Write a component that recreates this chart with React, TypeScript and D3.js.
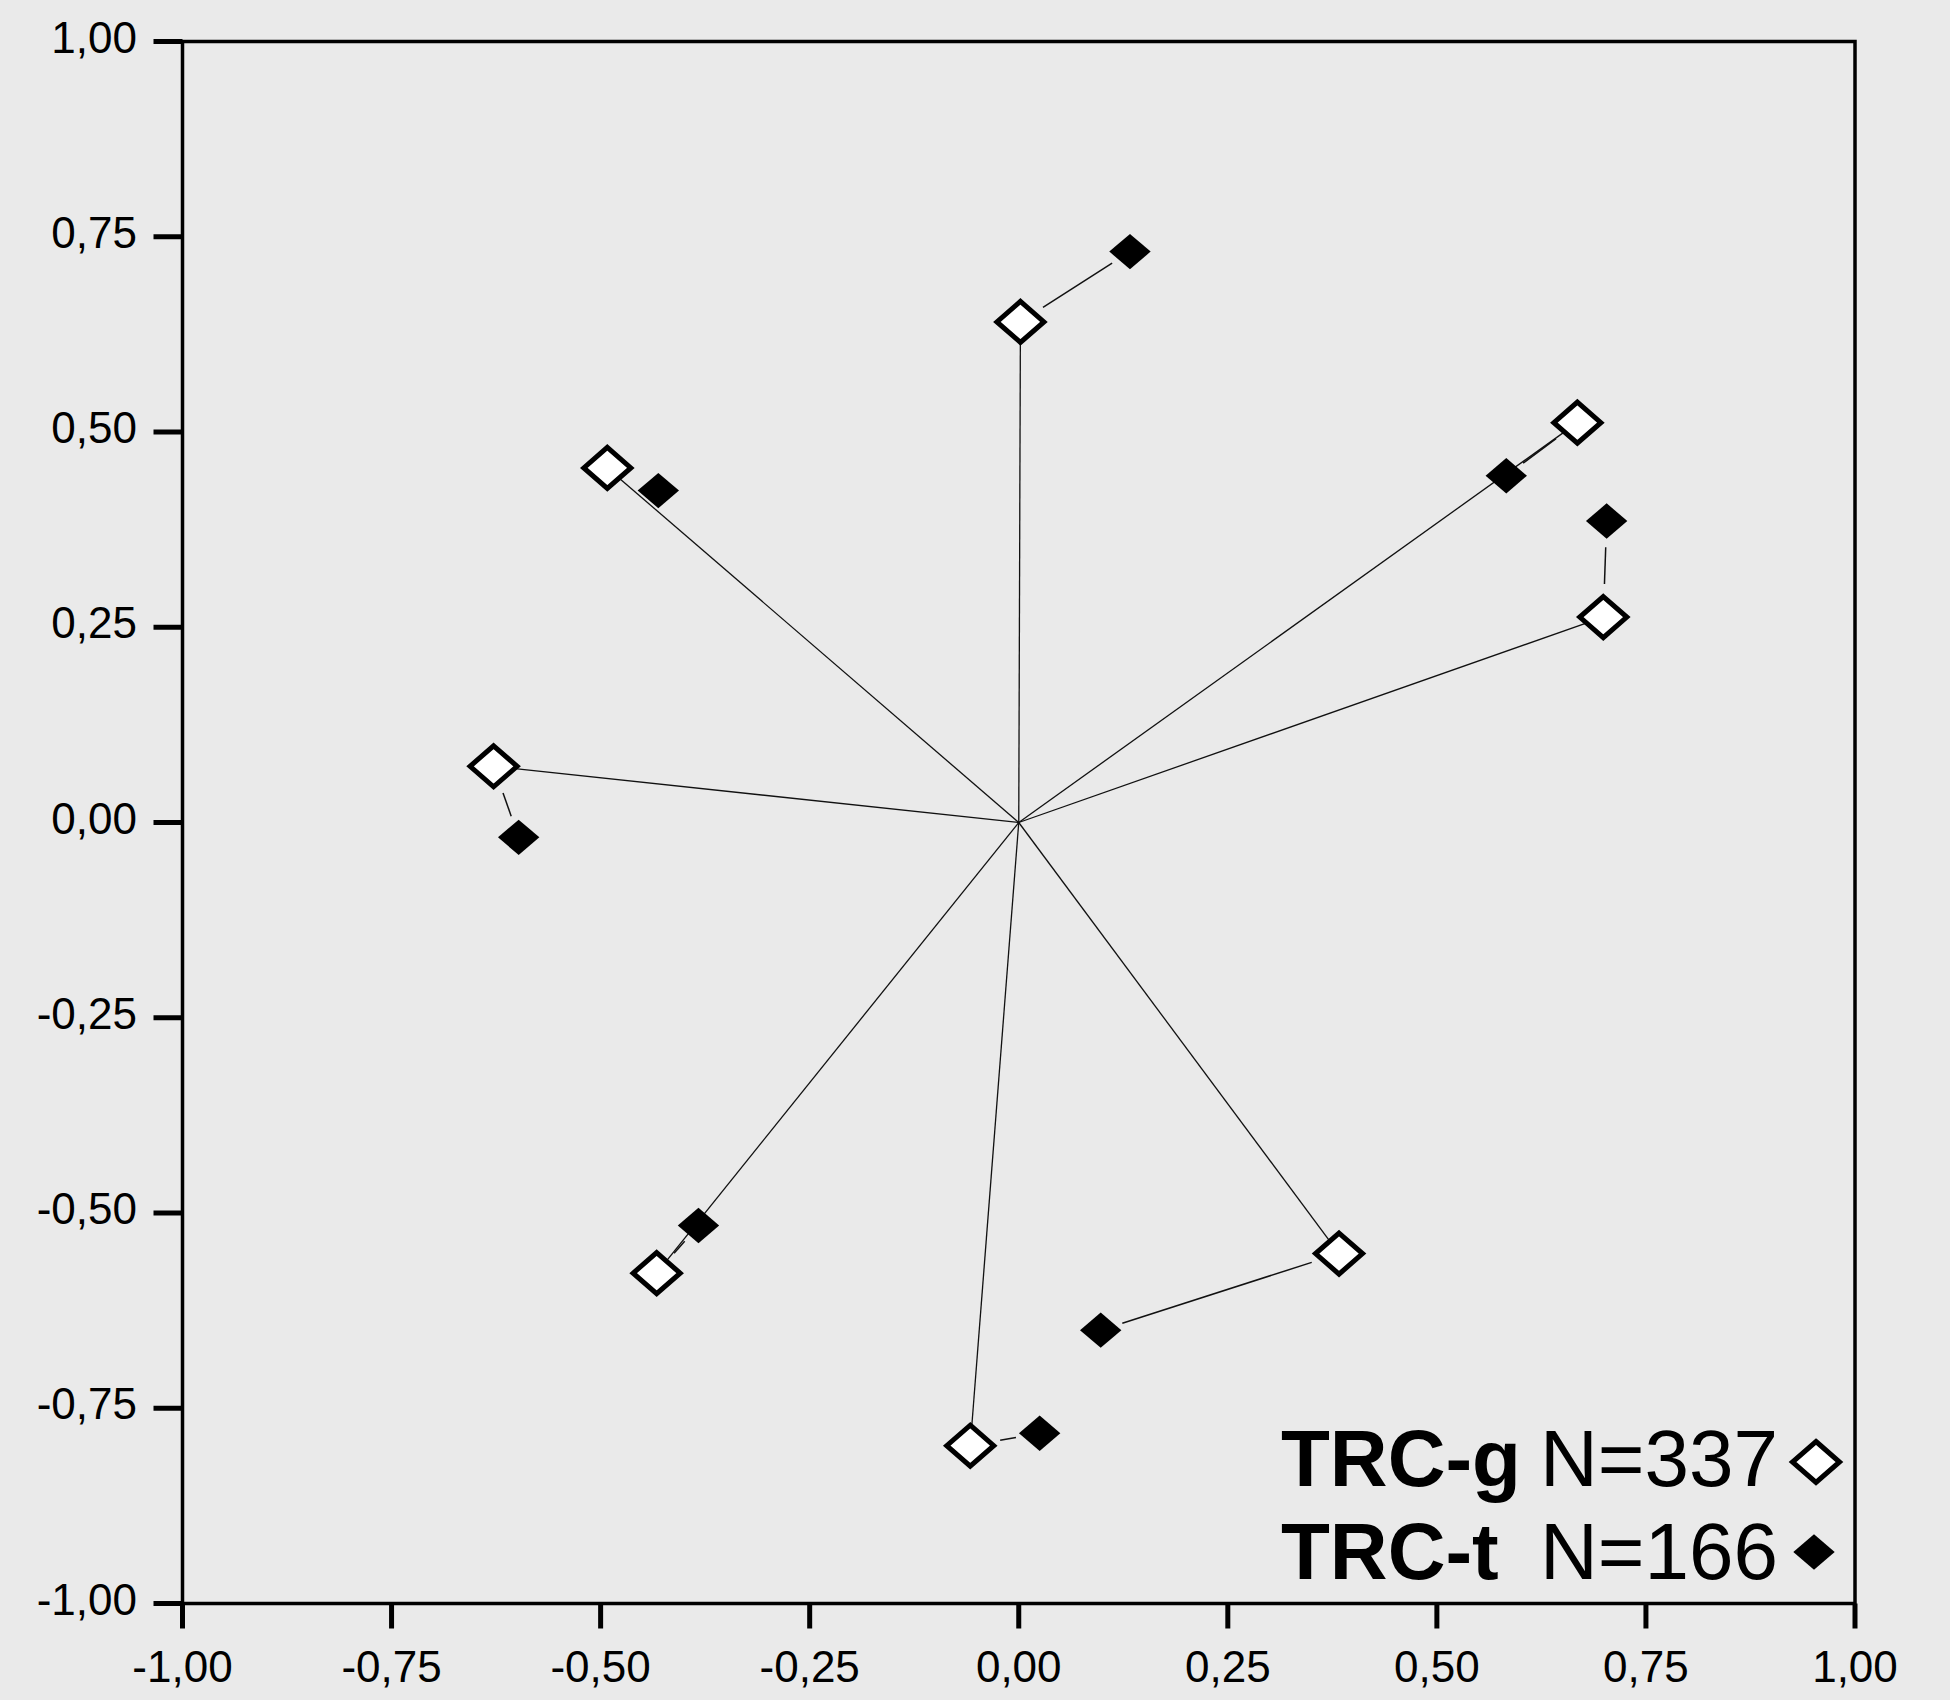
import React, { useEffect } from 'react';
import * as d3 from 'd3';

// TRC-g loadings (open diamonds)
const gX = [0.002, 0.668, 0.699, -0.492, -0.628, -0.433, -0.058, 0.383];
const gY = [0.641, 0.512, 0.263, 0.454, 0.072, -0.577, -0.798, -0.552];
// TRC-t loadings (filled diamonds)
const tX = [0.133, 0.583, 0.703, -0.431, -0.598, -0.383, 0.025, 0.098];
const tY = [0.731, 0.444, 0.386, 0.425, -0.019, -0.516, -0.782, -0.65];

const ticks = [-1, -0.75, -0.5, -0.25, 0, 0.25, 0.5, 0.75, 1];
const legendNames = ['TRC-g', 'TRC-t'];
const legendN = ['N=337', 'N=166'];

const W = 1950;
const H = 1700;
const BG = '#eaeaea';
const FONT = '"Liberation Sans", Arial, Helvetica, sans-serif';

const locale = d3.formatLocale({ decimal: ',', thousands: '.', grouping: [3], currency: ['', ''], minus: '-' });
const fmt = locale.format('.2f');

// diamond, a bit wider than tall
function diamond(cx: number, cy: number, hw: number, hh: number) {
  const p = d3.path();
  p.moveTo(cx, cy - hh);
  p.lineTo(cx + hw, cy);
  p.lineTo(cx, cy + hh);
  p.lineTo(cx - hw, cy);
  p.closePath();
  return p.toString();
}

export default function App() {
  useEffect(() => {
    document.body.style.margin = '0';
    document.body.style.background = BG;
  }, []);

  const x = d3.scaleLinear().domain([-1, 1]).range([182.5, 1855]);
  const y = d3.scaleLinear().domain([-1, 1]).range([1603.5, 41.5]);

  const ox = x(0);
  const oy = y(0);

  const openR = { hw: 23.5, hh: 20.5 };
  const fillR = { hw: 20.7, hh: 17.7 };

  // connector between g and t, trimmed near the markers
  const connectors = gX.map((gx, i) => {
    const x1 = x(gx), y1 = y(gY[i]);
    const x2 = x(tX[i]), y2 = y(tY[i]);
    const dx = x2 - x1, dy = y2 - y1;
    const len = Math.hypot(dx, dy);
    const ux = dx / len, uy = dy / len;
    const k = Math.abs(ux) + Math.abs(uy);
    const a = 26 / k + 8;
    const b = 21 / k + 6;
    if (len - a - b < 15) return null;
    return { x1: x1 + ux * a, y1: y1 + uy * a, x2: x2 - ux * b, y2: y2 - uy * b };
  });

  return (
    <svg width={W} height={H} style={{ display: 'block', background: BG }}>
      <rect x={0} y={0} width={W} height={H} fill={BG} />

      {/* vectors from origin */}
      {gX.map((gx, i) => (
        <line key={'v' + i} x1={ox} y1={oy} x2={x(gx)} y2={y(gY[i])} stroke="#111" strokeWidth={1.3} />
      ))}
      {connectors.map((c, i) =>
        c ? <line key={'c' + i} x1={c.x1} y1={c.y1} x2={c.x2} y2={c.y2} stroke="#111" strokeWidth={1.5} /> : null
      )}

      {/* frame */}
      <rect x={x(-1)} y={y(1)} width={x(1) - x(-1)} height={y(-1) - y(1)} fill="none" stroke="#000" strokeWidth={3.5} />

      {/* y axis */}
      {ticks.map((t) => (
        <g key={'y' + t}>
          <line x1={x(-1) - 29} x2={x(-1)} y1={y(t)} y2={y(t)} stroke="#000" strokeWidth={5} />
          <text x={137} y={y(t) + 11} textAnchor="end" fontFamily={FONT} fontSize={44} fill="#000">
            {fmt(t)}
          </text>
        </g>
      ))}
      {/* x axis */}
      {ticks.map((t) => (
        <g key={'x' + t}>
          <line x1={x(t)} x2={x(t)} y1={y(-1)} y2={y(-1) + 25} stroke="#000" strokeWidth={5} />
          <text x={x(t)} y={1682} textAnchor="middle" fontFamily={FONT} fontSize={44} fill="#000">
            {fmt(t)}
          </text>
        </g>
      ))}

      {/* markers */}
      {tX.map((tx, i) => (
        <path key={'t' + i} d={diamond(x(tx), y(tY[i]), fillR.hw, fillR.hh)} fill="#000" />
      ))}
      {gX.map((gx, i) => (
        <path
          key={'g' + i}
          d={diamond(x(gx), y(gY[i]), openR.hw, openR.hh)}
          fill="#fff"
          stroke="#000"
          strokeWidth={5}
          strokeLinejoin="miter"
        />
      ))}

      {/* legend */}
      {legendNames.map((name, i) => {
        const by = 1486 + i * 93;
        return (
          <g key={'l' + i} fontFamily={FONT} fontSize={80} fill="#000">
            <text x={1281} y={by} fontWeight="bold">{name}</text>
            <text x={1778} y={by} textAnchor="end">{legendN[i]}</text>
            {i === 0 ? (
              <path d={diamond(1816, by - 24, openR.hw, openR.hh)} fill="#fff" stroke="#000" strokeWidth={5} />
            ) : (
              <path d={diamond(1814, by - 27, fillR.hw, fillR.hh)} fill="#000" />
            )}
          </g>
        );
      })}
    </svg>
  );
}
